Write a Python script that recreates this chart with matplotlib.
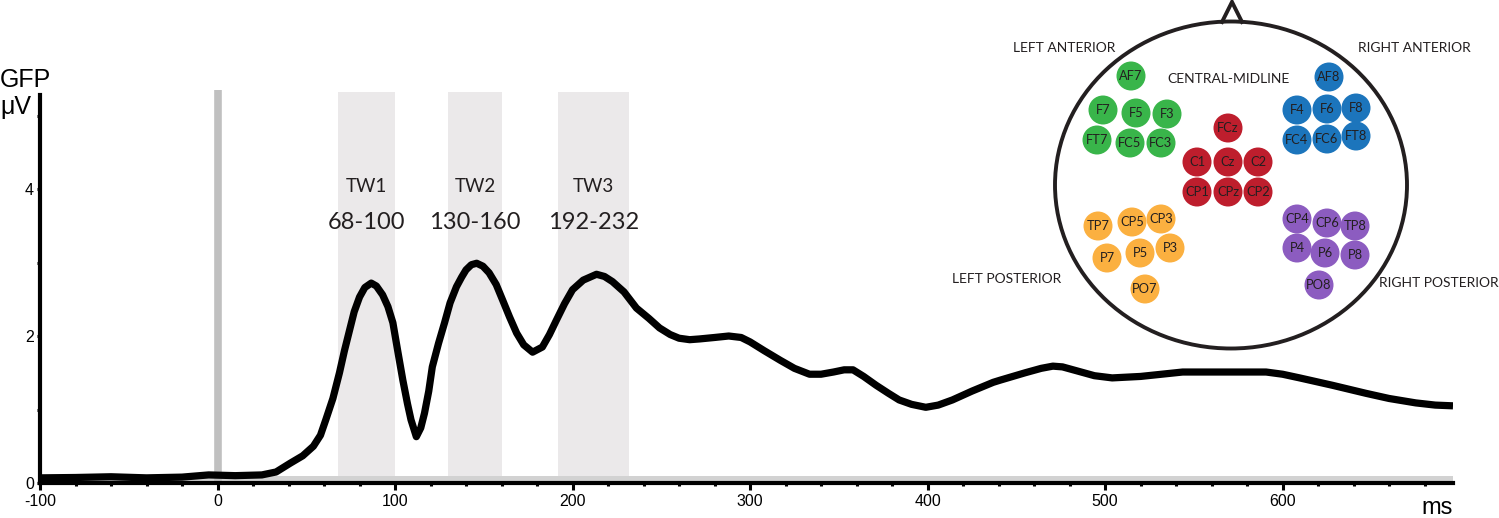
import matplotlib
matplotlib.use("Agg")
import matplotlib.pyplot as plt
from matplotlib.patches import Circle, Ellipse
import numpy as np

plt.rcParams["axes.unicode_minus"] = False

# GFP time course (ms, uV)
time_ms = [-100, -80, -60, -40, -20, -5, 10, 25, 33, 41, 48, 54, 58, 61, 65, 68.7,
           71.5, 74.4, 77, 80, 83, 86.6, 89.5, 93, 96, 98.8, 101.5, 104.4, 107, 109,
           112, 114.5, 116.6, 119, 121, 124.5, 127.9, 131, 134.6, 137.5, 140, 143,
           146, 149.5, 153, 157, 160.6, 164.5, 168.5, 172.5, 177.5, 183, 187, 191,
           195.5, 200, 206, 213.5, 218, 222.5, 229, 236, 243, 249, 255, 260, 266,
           271.5, 280, 288, 295, 300, 308, 317, 325, 333.5, 340, 347, 353, 358, 364,
           371, 378, 384, 391, 399, 406, 414, 425, 437, 441, 455, 464, 470.6, 476,
           485, 494, 504, 520, 543.7, 570, 590.7, 600, 609.6, 628, 647, 660, 675,
           686, 696]
gfp_uv = [0.07, 0.075, 0.085, 0.07, 0.08, 0.11, 0.10, 0.11, 0.15, 0.27, 0.37, 0.50,
          0.65, 0.86, 1.15, 1.50, 1.80, 2.08, 2.33, 2.53, 2.66, 2.72, 2.68, 2.56, 2.40,
          2.18, 1.80, 1.40, 1.08, 0.86, 0.63, 0.75, 0.95, 1.25, 1.58, 1.90, 2.18, 2.45,
          2.67, 2.80, 2.90, 2.97, 2.99, 2.95, 2.86, 2.70, 2.49, 2.26, 2.04, 1.88, 1.78,
          1.85, 2.02, 2.22, 2.44, 2.63, 2.76, 2.84, 2.81, 2.74, 2.60, 2.38, 2.24, 2.11,
          2.02, 1.97, 1.95, 1.96, 1.98, 2.00, 1.98, 1.92, 1.80, 1.67, 1.56, 1.48, 1.48,
          1.51, 1.54, 1.54, 1.45, 1.33, 1.22, 1.13, 1.07, 1.03, 1.06, 1.13, 1.25, 1.37,
          1.40, 1.50, 1.56, 1.59, 1.58, 1.52, 1.46, 1.43, 1.45, 1.51, 1.51, 1.51, 1.48,
          1.43, 1.33, 1.22, 1.15, 1.09, 1.06, 1.05]

tw_names = ["TW1", "TW2", "TW3"]
tw_start = [68, 130, 192]
tw_end = [100, 160, 232]

# electrode montage, grouped by region (positions in figure pixels)
left_ant = ["AF7", "F7", "F5", "F3", "FT7", "FC5", "FC3"]
left_ant_xy = [(1131, 76), (1103, 110), (1136, 113), (1167, 114), (1097, 140), (1130, 143), (1161, 143)]
right_ant = ["AF8", "F4", "F6", "F8", "FC4", "FC6", "FT8"]
right_ant_xy = [(1329, 77), (1297, 110), (1327, 109), (1356, 108), (1297, 140), (1327, 139), (1356, 136)]
central = ["FCz", "C1", "Cz", "C2", "CP1", "CPz", "CP2"]
central_xy = [(1228, 128), (1197, 162), (1228, 162), (1258, 162), (1197, 192), (1228, 192), (1258, 192)]
left_post = ["TP7", "CP5", "CP3", "P7", "P5", "P3", "PO7"]
left_post_xy = [(1098, 226), (1132, 222), (1161, 219), (1107, 258), (1140, 253), (1170, 248), (1145, 289)]
right_post = ["CP4", "CP6", "TP8", "P4", "P6", "P8", "PO8"]
right_post_xy = [(1297, 219), (1327, 223), (1355, 226), (1297, 248), (1325, 253), (1355, 255), (1319, 285)]

groups = [(left_ant, left_ant_xy, "#39b54a"),
          (right_ant, right_ant_xy, "#1c75bc"),
          (central, central_xy, "#be1e2d"),
          (left_post, left_post_xy, "#fbb040"),
          (right_post, right_post_xy, "#8c5cc0")]

region_labels = [("LEFT ANTERIOR", 1064, 48), ("RIGHT ANTERIOR", 1414, 48),
                 ("CENTRAL-MIDLINE", 1229, 79), ("LEFT POSTERIOR", 1007, 279),
                 ("RIGHT POSTERIOR", 1439, 283)]

W, H = 1499, 518
fig = plt.figure(figsize=(W / 100, H / 100), dpi=100)

ax = fig.add_axes([40 / W, 35 / H, 1413 / W, (483 - 89.8) / H])
ax.set_xlim(-100, 696)
ax.set_ylim(0, 5.35)

for s, e, name in zip(tw_start, tw_end, tw_names):
    ax.axvspan(s, e, ymin=0, ymax=5.32 / 5.35, color="#ebe9ea", lw=0, zorder=0)
    ax.text((s + e) / 2, 4.03, name, ha="center", va="center",
            fontsize=13.5, family="Lato", color="#231f20")
    ax.text((s + e) / 2, 3.54, "%d-%d" % (s, e), ha="center", va="center",
            fontsize=17, family="Lato", color="#231f20")

ax.axhspan(0, 0.1, color="#d2d2d2", lw=0, zorder=1)
ax.axvline(0, color="#c0c0c0", lw=5.5, zorder=1)
ax.plot(time_ms, gfp_uv, color="black", lw=5.2, solid_joinstyle="round",
        solid_capstyle="butt", zorder=3)

for side in ["top", "right"]:
    ax.spines[side].set_visible(False)
ax.spines["left"].set_linewidth(3)
ax.spines["bottom"].set_linewidth(3)
ax.spines["left"].set_bounds(0, 5.28)
ax.spines["left"].set_zorder(4)
ax.spines["bottom"].set_zorder(4)

ax.set_xticks(range(-100, 601, 100))
ax.set_xticks(range(-80, 700, 20), minor=True)
ax.set_yticks([0, 2, 4])
ax.set_yticks([1, 3, 5], minor=True)
ax.tick_params(axis="x", which="major", length=5, width=2.2, pad=3,
               labelsize=11.5)
ax.tick_params(axis="x", which="minor", length=2.5, width=2.2)
ax.tick_params(axis="y", which="major", length=2.5, width=2.2, pad=2,
               labelsize=11.5)
ax.tick_params(axis="y", which="minor", length=2.5, width=2.2)
for lab in ax.get_xticklabels() + ax.get_yticklabels():
    lab.set_family("Liberation Sans")

fig.text(0, 1 - 80 / H, "GFP", ha="left", va="center", fontsize=18,
         family="Liberation Sans")
fig.text(0, 1 - 107 / H, "μV", ha="left", va="center", fontsize=18,
         family="Liberation Sans")
fig.text(1453 / W, 1 - 514 / H, "ms", ha="right", va="baseline", fontsize=17,
         family="Liberation Sans")

# head inset
hx = fig.add_axes([0, 0, 1, 1], zorder=5)
hx.set_xlim(0, W)
hx.set_ylim(H, 0)
hx.axis("off")
hx.patch.set_visible(False)

hx.add_patch(Ellipse((1231, 185), 352, 327, fill=False, ec="#231f20", lw=2.8))
hx.plot([1222, 1232, 1242], [22, 2, 22], color="#231f20", lw=2.8,
        solid_joinstyle="miter")

for names, xy, col in groups:
    for n, (x, y) in zip(names, xy):
        hx.add_patch(Circle((x, y), 14.5, color=col, lw=0))
        hx.text(x, y, n, ha="center", va="center", fontsize=9.3,
                family="Lato", color="#231f20")

for txt, x, y in region_labels:
    hx.text(x, y, txt, ha="center", va="center", fontsize=10,
            family="Lato", color="#231f20")

fig.savefig("out.png", dpi=100)
